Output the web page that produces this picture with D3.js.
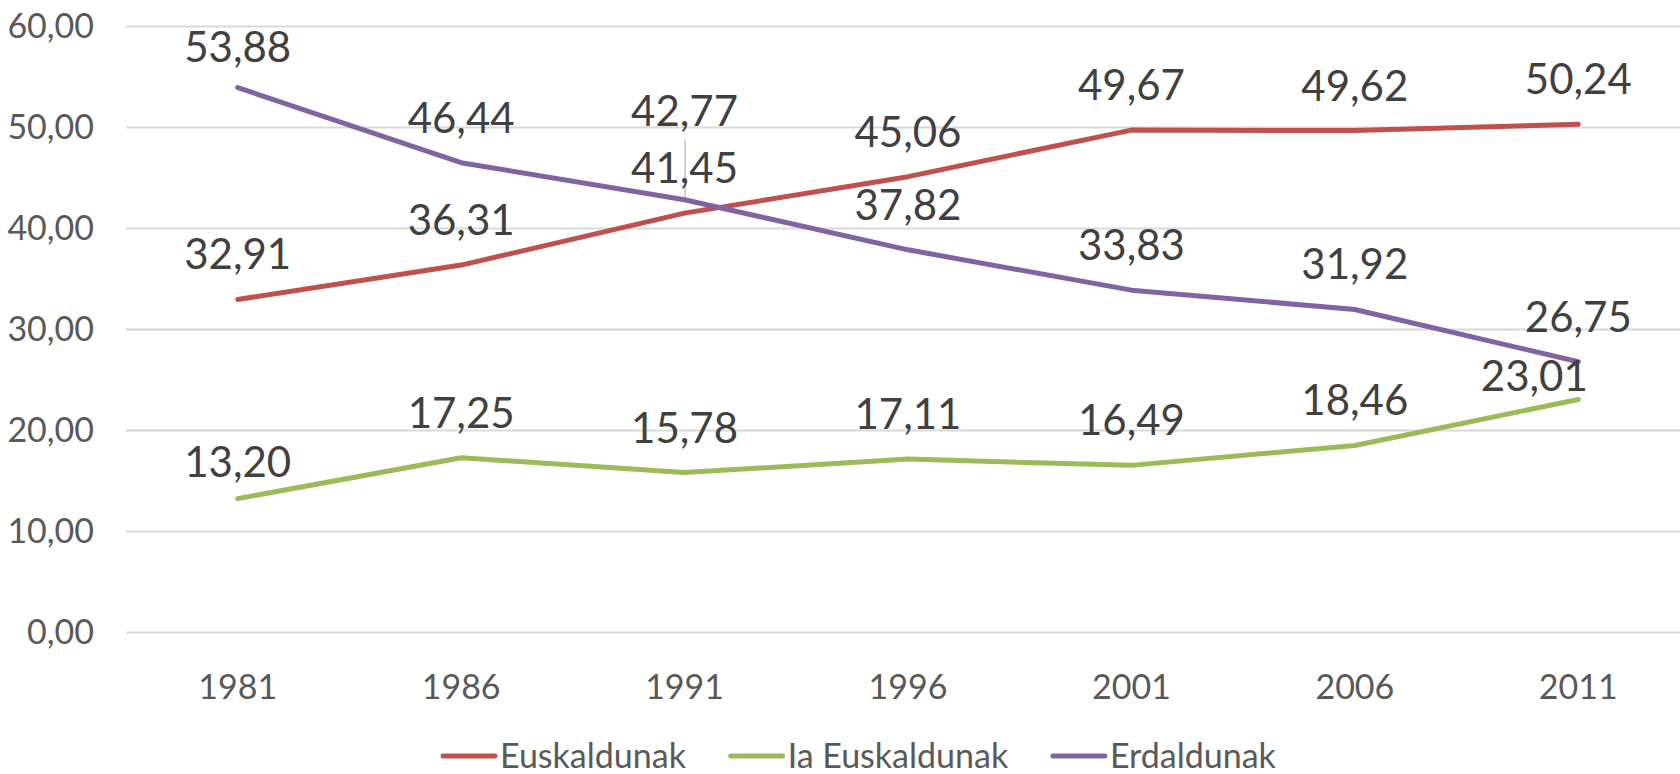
<!DOCTYPE html>
<html>
<head>
<meta charset="utf-8">
<script src="https://cdn.jsdelivr.net/npm/d3@7"></script>
<style>
  html, body { margin: 0; padding: 0; background: #fff; }
  svg { display: block; font-family: Lato, "Open Sans", sans-serif; }
</style>
</head>
<body>
<svg width="1680" height="774"></svg>
<script>
const width = 1680;
const height = 774;

// data
const years = ["1981", "1986", "1991", "1996", "2001", "2006", "2011"];
const euskaldunak = [32.91, 36.31, 41.45, 45.06, 49.67, 49.62, 50.24];
const iaEuskaldunak = [13.2, 17.25, 15.78, 17.11, 16.49, 18.46, 23.01];
const erdaldunak = [53.88, 46.44, 42.77, 37.82, 33.83, 31.92, 26.75];
const seriesNames = ["Euskaldunak", "Ia Euskaldunak", "Erdaldunak"];
const yTicks = [0, 10, 20, 30, 40, 50, 60];

const series = [
  { name: seriesNames[0], values: euskaldunak, color: "#c0504d" },
  { name: seriesNames[1], values: iaEuskaldunak, color: "#9bbb59" },
  { name: seriesNames[2], values: erdaldunak, color: "#8064a2" }
];

// hand-moved labels (like in the original sheet)
const labelNudge = {
  "Erdaldunak-1981": { dx: 0, dy: 4 },
  "Erdaldunak-1991": { dx: 0, dy: -44, leader: true },
  "Ia Euskaldunak-1981": { dx: 0, dy: 8 },
  "Ia Euskaldunak-2011": { dx: -44, dy: 22 }
};

const fmt = v => v.toFixed(2).replace(".", ",");

const svg = d3.select("svg");

const x = d3.scaleBand().domain(years).range([126, 1690]);
const y = d3.scaleLinear().domain([0, 60]).range([632, 25.7]);
const cx = d => x(d) + x.bandwidth() / 2;

// gridlines
svg.append("g")
  .selectAll("line")
  .data(yTicks)
  .enter()
  .append("line")
  .attr("x1", 126)
  .attr("x2", width)
  .attr("y1", d => Math.round(y(d)) + 0.5)
  .attr("y2", d => Math.round(y(d)) + 0.5)
  .style("stroke", "#d9d9d9")
  .style("stroke-width", 2);

// y tick labels
svg.append("g")
  .selectAll("text")
  .data(yTicks)
  .enter()
  .append("text")
  .attr("x", 94)
  .attr("y", d => y(d) + 12)
  .attr("text-anchor", "end")
  .style("font-size", "34px")
  .style("fill", "#595959")
  .text(fmt);

// x tick labels
svg.append("g")
  .selectAll("text")
  .data(years)
  .enter()
  .append("text")
  .attr("x", cx)
  .attr("y", 699)
  .attr("text-anchor", "middle")
  .style("font-size", "34px")
  .style("fill", "#595959")
  .text(d => d);

const line = d3.line()
  .x((d, i) => cx(years[i]))
  .y(d => y(d));

// leader lines
svg.append("g")
  .selectAll("line")
  .data(series.flatMap(s => s.values.map((v, i) => ({ s, v, year: years[i] }))).filter(d => (labelNudge[`${d.s.name}-${d.year}`] || {}).leader))
  .enter()
  .append("line")
  .attr("x1", d => cx(d.year) + 0.5)
  .attr("x2", d => cx(d.year) + 0.5)
  .attr("y1", d => y(d.v))
  .attr("y2", d => y(d.v) - 60)
  .style("stroke", "#a6a6a6")
  .style("stroke-width", 1);

// lines
svg.append("g")
  .selectAll("path")
  .data(series)
  .enter()
  .append("path")
  .attr("d", d => line(d.values))
  .style("fill", "none")
  .style("stroke", d => d.color)
  .style("stroke-width", 5)
  .style("stroke-linecap", "round")
  .style("stroke-linejoin", "round");

// data labels
series.forEach(s => {
  svg.append("g")
    .selectAll("text")
    .data(s.values)
    .enter()
    .append("text")
    .attr("x", (d, i) => cx(years[i]) + ((labelNudge[`${s.name}-${years[i]}`] || {}).dx || 0))
    .attr("y", (d, i) => y(d) - 30 + ((labelNudge[`${s.name}-${years[i]}`] || {}).dy || 0))
    .attr("text-anchor", "middle")
    .style("font-size", "42px")
    .style("fill", "#404040")
    .text(fmt);
});

// legend
const legend = svg.append("g");
const items = legend.selectAll("g")
  .data(series)
  .enter()
  .append("g");

items.append("line")
  .attr("x1", 0)
  .attr("x2", 52)
  .attr("y1", 0)
  .attr("y2", 0)
  .style("stroke", d => d.color)
  .style("stroke-width", 5)
  .style("stroke-linecap", "round");

items.append("text")
  .attr("x", 57)
  .attr("y", 12)
  .style("font-size", "34px")
  .style("fill", "#595959")
  .text(d => d.name);

let offset = 0;
items.each(function() {
  const w = this.getBBox().width;
  d3.select(this).attr("transform", `translate(${offset},0)`);
  offset += w + 44;
});
offset -= 44;
legend.attr("transform", `translate(${Math.round(860 - offset / 2)},756)`);
</script>
</body>
</html>
